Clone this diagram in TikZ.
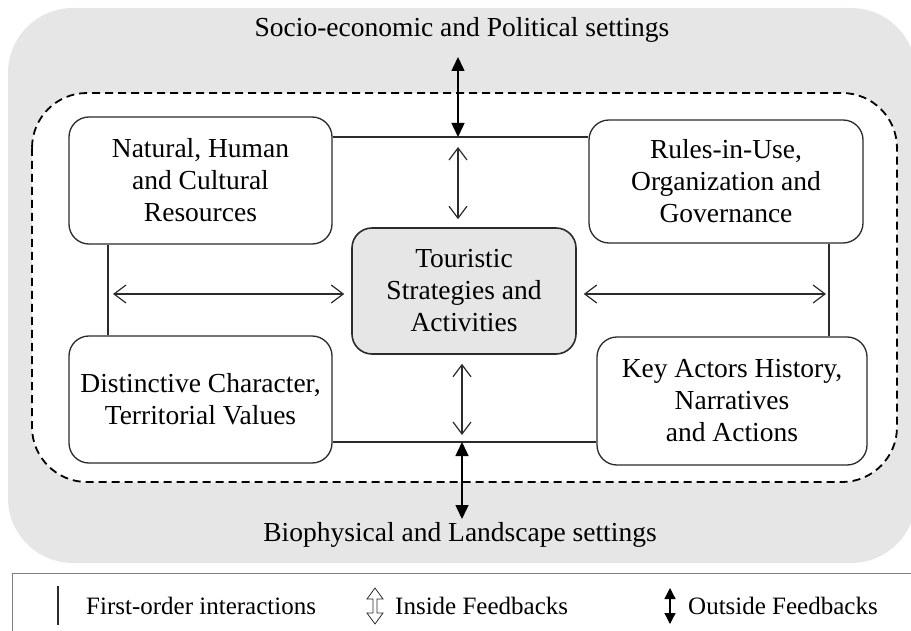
\documentclass[tikz,border=0pt]{standalone}
\usepackage{fontspec}
\setmainfont{Liberation Serif}
\usetikzlibrary{arrows.meta}
\definecolor{bgrey}{HTML}{E6E6E6}
\definecolor{ink}{HTML}{2B2B2B}
\begin{document}
\begin{tikzpicture}[x=1pt,y=-1pt,
  box/.style={draw=ink, line width=1.3pt, rounded corners=20pt, align=center, inner sep=0pt, font=\fontsize{27.5}{32}\selectfont},
  link/.style={draw=ink, line width=1.3pt},
  inarrow/.style={draw=ink, line width=1.2pt, {Straight Barb[length=12pt,width=18pt]}-{Straight Barb[length=12pt,width=18pt]}},
  outarrow/.style={draw=black, line width=1.5pt, {Triangle[length=14pt,width=13pt]}-{Triangle[length=14pt,width=13pt]}},
  legout/.style={draw=black, line width=1.3pt, {Triangle[length=11pt,width=11pt]}-{Triangle[length=11pt,width=11pt]}},
  lbl/.style={font=\fontsize{27.5}{32}\selectfont, inner sep=0pt},
  leg/.style={font=\fontsize{25}{30}\selectfont, inner sep=0pt, anchor=west}
]
\useasboundingbox (0,0) rectangle (911,631);
% background panels
\fill[bgrey, rounded corners=65pt] (8,8) rectangle (916,563);
\draw[black, line width=1.8pt, dash pattern=on 8pt off 5pt, rounded corners=55pt, fill=white] (32,93) rectangle (897,482);

% boxes
\node[box, minimum width=263pt, minimum height=127pt] (nw) at (200.5,180.5) {Natural, Human\\and Cultural\\Resources};
\node[box, minimum width=274pt, minimum height=123pt] (ne) at (726,181.5) {Rules-in-Use,\\Organization and\\Governance};
\node[box, minimum width=263pt, minimum height=127pt] (sw) at (200.5,399.5) {Distinctive Character,\\Territorial Values};
\node[box, minimum width=270pt, minimum height=128pt] (se) at (732,401) {Key Actors History,\\Narratives\\and Actions};
\node[box, fill=bgrey, line width=1.6pt, minimum width=224pt, minimum height=126pt] (c) at (464,291) {Touristic\\Strategies and\\Activities};

% setting labels
\node[lbl] (soc) at (462,30) {Socio-economic and Political settings};
\node[lbl] (bio) at (460,535) {Biophysical and Landscape settings};

% helper coordinates
\coordinate (topy) at (0,137);
\coordinate (boty) at (0,442);
\coordinate (hy) at (0,294);
\coordinate (lx) at (108,0);
\coordinate (rx) at (829,0);
\coordinate (ax) at (458,0);
\coordinate (bx) at (462,0);
\coordinate (tt) at (458,57);
\coordinate (bt) at (462,519);

% first-order interactions
\draw[link] (nw.east |- topy) -- (ne.west |- topy);
\draw[link] (sw.east |- boty) -- (se.west |- boty);
\draw[link] (nw.south -| lx) -- (sw.north -| lx);
\draw[link] (ne.south -| rx) -- (se.north -| rx);

% inside feedbacks
\draw[inarrow, shorten <=5pt, shorten >=7pt] (lx |- hy) -- (c.west |- hy);
\draw[inarrow, shorten <=7pt, shorten >=3pt] (c.east |- hy) -- (rx |- hy);
\draw[inarrow, shorten <=10pt, shorten >=8pt] (ax |- topy) -- (ax |- c.north);
\draw[inarrow, shorten <=9pt, shorten >=7pt] (bx |- c.south) -- (bx |- boty);

% outside feedbacks
\draw[outarrow] (tt) -- (ax |- topy);
\draw[outarrow] (bx |- boty) -- (bt);

% legend
\draw[draw=gray, line width=1pt] (912,573) -- (12,573) -- (12,632);
\coordinate (l1a) at (58,586);
\coordinate (l1b) at (58,625);
\draw[link] (l1a) -- (l1b);
\node[leg] (t1) at (86,606) {First-order interactions};
\draw[ink, line width=0.8pt] (375,588) -- (383,599) -- (377,599) -- (377,613) -- (383,613) -- (375,624) -- (367,613) -- (373,613) -- (373,599) -- (367,599) -- cycle;
\node[leg] (t2) at (395,606) {Inside Feedbacks};
\coordinate (l3a) at (670,588);
\coordinate (l3b) at (670,624);
\draw[legout] (l3a) -- (l3b);
\node[leg] (t3) at (688,606) {Outside Feedbacks};
\end{tikzpicture}
\end{document}
